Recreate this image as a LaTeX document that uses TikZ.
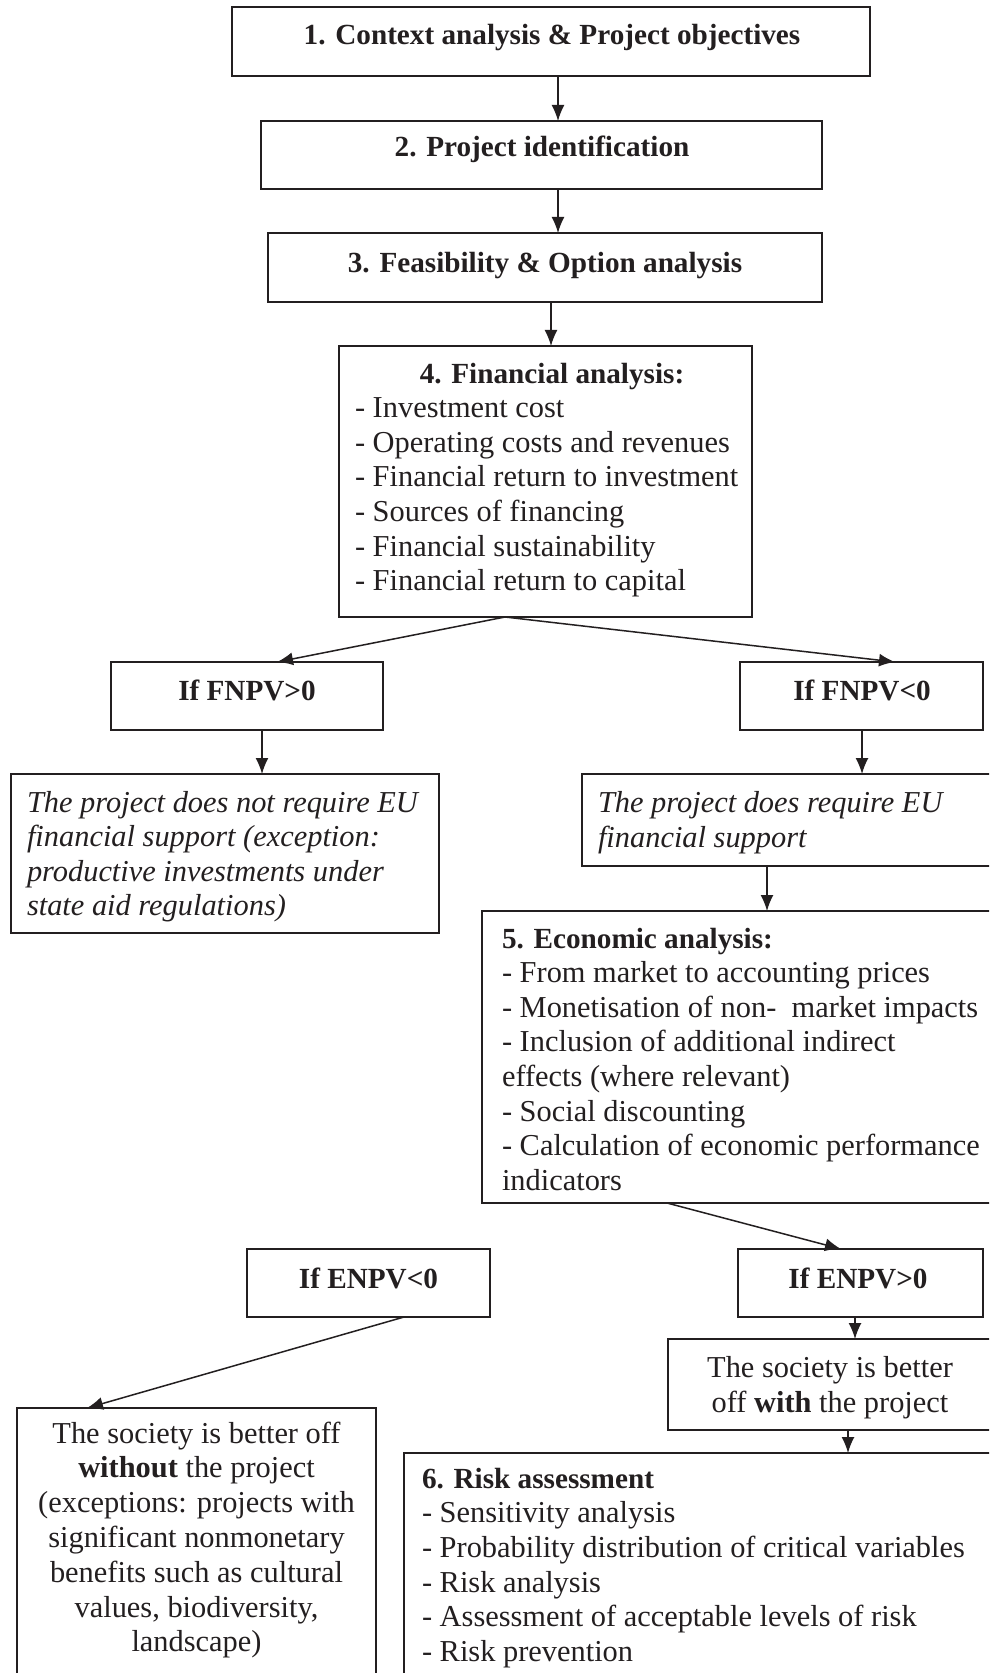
\documentclass[tikz,border=0pt]{standalone}
\usepackage{fontspec}
\setmainfont{Liberation Serif}
\usetikzlibrary{arrows.meta,calc}
\definecolor{lc}{HTML}{231F20}
\newcommand\bx[5]{\node[box, minimum width={(#4-#2)*0.5pt}, minimum height={(#5-#3)*0.5pt}] (#1) at (#2,#3) {};}
\begin{document}
\begin{tikzpicture}[x=0.5pt,y=-0.5pt,
  box/.style={draw=lc, line width=0.8pt, inner sep=0pt, outer sep=0pt, anchor=north west},
  arr/.style={draw=lc, line width=0.75pt, -{Latex[length=8pt,width=6.5pt]}},
  txt/.style={inner sep=0pt, outer sep=0pt, text=lc, font=\fontsize{15.2}{17.4}\selectfont},
  btxt/.style={inner sep=0pt, outer sep=0pt, text=lc, font=\fontsize{14.6}{17.4}\selectfont\bfseries},
  itxt/.style={inner sep=0pt, outer sep=0pt, text=lc, font=\fontsize{15.2}{17.4}\selectfont\itshape},
]
\useasboundingbox (0,0) rectangle (989,1673);
\fill[white] (0,0) rectangle (989,1673);
\clip (0,0) rectangle (989,1673);

% boxes
\bx{b1}{232}{7}{870}{76}
\bx{b2}{261}{121}{822}{189}
\bx{b3}{268}{233}{822}{302}
\bx{b4}{339}{346}{752}{617}
\bx{fpos}{111}{662}{383}{730}
\bx{fneg}{740}{662}{983}{730}
\bx{nosup}{11}{774}{439}{933}
\bx{sup}{582}{774}{1010}{866}
\bx{b5}{482}{911}{1010}{1203}
\bx{eneg}{247}{1249}{490}{1317}
\bx{epos}{738}{1249}{983}{1317}
\bx{without}{17}{1408}{376}{1700}
\bx{with}{668}{1339}{1010}{1430}
\bx{risk}{404}{1453}{1010}{1700}

% texts
\node[btxt, anchor=base] (t1) at (552,45) {1. Context analysis \& Project objectives};
\node[btxt, anchor=base] (t2) at (542,157) {2. Project identification};
\node[btxt, anchor=base] (t3) at (545,273) {3. Feasibility \& Option analysis};
\node[btxt, anchor=base] (t4) at (552,384) {4. Financial analysis:};
\foreach \t [count=\i from 0] in {{- Investment cost},{- Operating costs and revenues},{- Financial return to investment},{- Sources of financing},{- Financial sustainability},{- Financial return to capital}}
  \node[txt, anchor=base west] (t4l\i) at ({355},{418+34.5*\i}) {\t};

\node[btxt, anchor=base] (tfp) at (247,700) {If FNPV>0};
\node[btxt, anchor=base] (tfn) at (862,700) {If FNPV<0};

\foreach \t [count=\i from 0] in {{The project does not require EU},{financial support (exception:},{productive investments under},{state aid regulations)}}
  \node[itxt, anchor=base west] (tns\i) at ({27},{812+34.5*\i}) {\t};
\foreach \t [count=\i from 0] in {{The project does require EU},{financial support}}
  \node[itxt, anchor=base west] (ts\i) at ({598},{812+35*\i}) {\t};

\node[btxt, anchor=base west] (t5) at (502,948) {5. Economic analysis:};
\foreach \t [count=\i from 0] in {{- From market to accounting prices},{- Monetisation of non-\ \ market impacts},{- Inclusion of additional indirect},{effects (where relevant)},{- Social discounting},{- Calculation of economic performance},{indicators}}
  \node[txt, anchor=base west] (t5l\i) at ({502},{982.6+34.6*\i}) {\t};

\node[btxt, anchor=base] (ten) at (368.5,1288) {If ENPV<0};
\node[btxt, anchor=base] (tep) at (858,1288) {If ENPV>0};

\node[txt, anchor=base] (tw0) at (830,1377) {The society is better};
\node[txt, anchor=base] (tw1) at (830,1412) {off \textbf{with} the project};

\foreach \t [count=\i from 0] in {{The society is better off},{\textbf{without} the project},{(exceptions: projects with},{significant nonmonetary},{benefits such as cultural},{values, biodiversity,},{landscape)}}
  \node[txt, anchor=base] (two\i) at ({196.5},{1443+34.8*\i}) {\t};

\node[btxt, anchor=base west] (t6) at (422,1488) {6. Risk assessment};
\foreach \t [count=\i from 0] in {{- Sensitivity analysis},{- Probability distribution of critical variables},{- Risk analysis},{- Assessment of acceptable levels of risk},{- Risk prevention}}
  \node[txt, anchor=base west] (t6l\i) at ({422},{1522.7+34.7*\i}) {\t};

% connectors
\draw[arr] (558,0 |- b1.south) -- (558,0 |- b2.north);
\draw[arr] (558,0 |- b2.south) -- (558,0 |- b3.north);
\draw[arr] (551,0 |- b3.south) -- (551,0 |- b4.north);
\draw[arr] (505,0 |- b4.south) -- (277,0 |- fpos.north);
\draw[arr] (505,0 |- b4.south) -- (895,0 |- fneg.north);
\draw[arr] (262,0 |- fpos.south) -- (262,0 |- nosup.north);
\draw[arr] (862,0 |- fneg.south) -- (862,0 |- sup.north);
\draw[arr] (767,0 |- sup.south) -- (767,0 |- b5.north);
\draw[arr] (667,0 |- b5.south) -- (841,0 |- epos.north);
\draw[arr] (404,0 |- eneg.south) -- (87,0 |- without.north);
\draw[arr] (855,0 |- epos.south) -- (855,0 |- with.north);
\draw[arr] (848,0 |- with.south) -- (848,0 |- risk.north);
\end{tikzpicture}
\end{document}
